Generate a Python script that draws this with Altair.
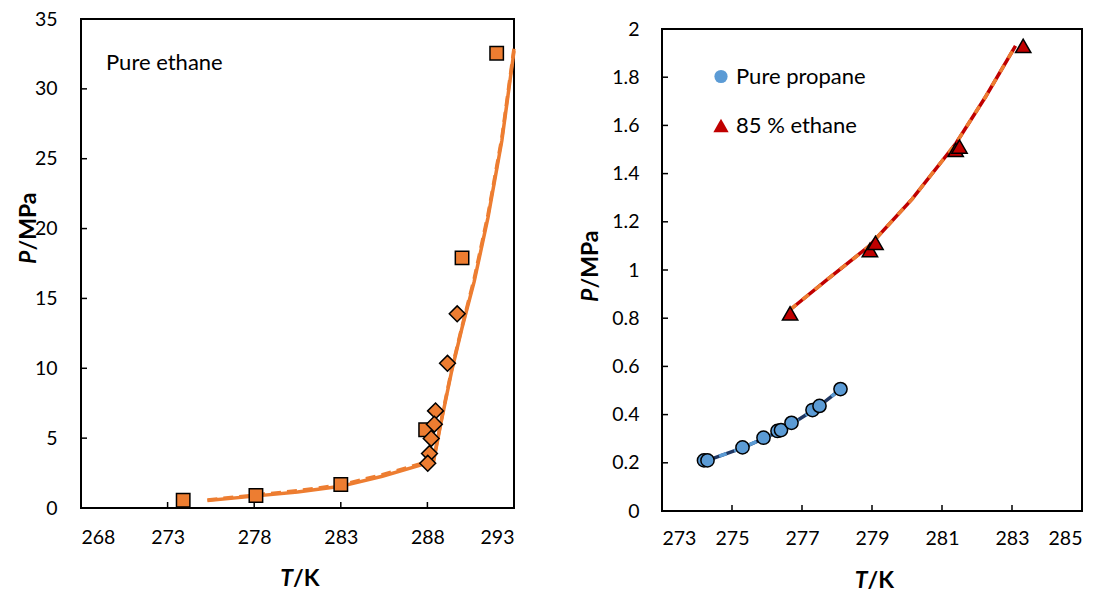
import altair as alt
import pandas as pd

# ---------------- data ----------------
# Left panel: pure ethane
sq_T = [273.9, 278.1, 283.0, 287.9, 290.0, 292.0]
sq_P = [0.55, 0.89, 1.68, 5.6, 17.9, 32.55]
dm_T = [289.72, 289.16, 288.47, 288.40, 288.22, 288.12, 288.02]
dm_P = [13.9, 10.36, 6.95, 6.0, 4.98, 3.9, 3.2]
lineA_T = [275.3, 278.0, 280.5, 283.0, 285.4, 287.7, 288.35, 288.8, 289.4, 290.0, 290.7, 291.5, 292.3, 293.0]
lineA_P = [0.53, 0.85, 1.15, 1.55, 2.27, 3.1, 3.3, 6.2, 9.8, 12.9, 16.2, 20.8, 26.3, 32.7]
lineB_T = [275.3, 278.0, 280.5, 283.0, 285.4, 287.7, 288.35, 288.8, 289.4, 290.0, 290.7, 291.5, 292.3, 293.0]
lineB_P = [0.58, 0.92, 1.24, 1.65, 2.38, 3.2, 3.4, 6.3, 9.9, 13.0, 16.4, 21.0, 26.5, 32.9]

# Right panel: pure propane and 85 % ethane
prop_T = [274.2, 274.3, 275.3, 275.9, 276.3, 276.4, 276.7, 277.3, 277.5, 278.1]
prop_P = [0.21, 0.21, 0.264, 0.304, 0.332, 0.336, 0.366, 0.419, 0.436, 0.506]
eth_T = [276.66, 278.94, 279.1, 281.39, 281.5, 283.32]
eth_P = [0.82, 1.083, 1.113, 1.498, 1.512, 1.93]
propL_T = [274.2, 275.3, 276.4, 277.4, 278.1]
propL_P = [0.205, 0.262, 0.333, 0.425, 0.505]
ethL_T = [276.66, 277.7, 278.9, 280.15, 281.4, 282.25, 283.1]
ethL_P = [0.835, 0.958, 1.097, 1.295, 1.526, 1.72, 1.93]

series_names = ["Pure propane", "85 % ethane"]

LX_TICKS = [268, 273, 278, 283, 288, 293]
LY_TICKS = [0, 5, 10, 15, 20, 25, 30, 35]
RX_TICKS = [273, 275, 277, 279, 281, 283, 285]
RY_TICKS = [0, 0.2, 0.4, 0.6, 0.8, 1.0, 1.2, 1.4, 1.6, 1.8, 2.0]

# ---------------- style ----------------
FONT = "Lato"
ORANGE = "#ED7D31"
BLUE = "#5B9BD5"
NAVY = "#203864"
RED = "#C00000"
W1, H1 = 433, 489
W2, H2 = 420, 482
TS = 6  # inward tick length
TICKFS = 19.5
TEXTFS = 22
TITLEFS = 23


def df(T, P):
    return pd.DataFrame({"T": T, "P": P})


one = pd.DataFrame({"a": [0]})

# ---------------- left panel ----------------
lx = alt.X("T:Q", scale=alt.Scale(domain=[268, 293], nice=False, zero=False),
           axis=alt.Axis(values=LX_TICKS, title=None, labelPadding=20))
ly = alt.Y("P:Q", scale=alt.Scale(domain=[0, 35], nice=False, zero=False),
           axis=alt.Axis(values=LY_TICKS, title=None, labelPadding=24))

l_lineA = alt.Chart(df(lineA_T, lineA_P)).mark_line(color=ORANGE, strokeWidth=3.5).encode(x=lx, y=ly)
l_lineB = alt.Chart(df(lineB_T, lineB_P)).mark_line(color=ORANGE, strokeWidth=3.5, strokeDash=[10, 6]).encode(x=lx, y=ly)
l_sq = alt.Chart(df(sq_T, sq_P)).mark_point(shape="square", size=180, filled=True, fill=ORANGE,
                                             stroke="black", strokeWidth=1.5, opacity=1).encode(x=lx, y=ly)
l_dm = alt.Chart(df(dm_T, dm_P)).mark_point(shape="diamond", size=250, filled=True, fill=ORANGE,
                                             stroke="black", strokeWidth=1.5, opacity=1).encode(x=lx, y=ly)
l_xt = alt.Chart(pd.DataFrame({"T": LX_TICKS})).mark_rule(color="black", strokeWidth=1.5).encode(
    x=lx, y=alt.value(H1), y2=alt.value(H1 - TS))
l_yt = alt.Chart(pd.DataFrame({"P": LY_TICKS})).mark_rule(color="black", strokeWidth=1.5).encode(
    y=ly, x=alt.value(0), x2=alt.value(TS))
l_lab = alt.Chart(one).mark_text(font=FONT, fontSize=TEXTFS, align="left", baseline="middle", color="black").encode(
    x=alt.value(25), y=alt.value(43.5), text=alt.value("Pure ethane"))


def xtitle(w, ypos):
    a = alt.Chart(one).mark_text(font=FONT, fontSize=TITLEFS, fontWeight="bold", fontStyle="italic",
                                 align="right", baseline="middle", color="black").encode(
        x=alt.value(w / 2 - 4.5), y=alt.value(ypos), text=alt.value("T"))
    b = alt.Chart(one).mark_text(font=FONT, fontSize=TITLEFS, fontWeight="bold",
                                 align="left", baseline="middle", color="black").encode(
        x=alt.value(w / 2 - 4.5), y=alt.value(ypos), text=alt.value("/K"))
    return a + b


def ytitle(xpos, ycenter):
    a = alt.Chart(one).mark_text(font=FONT, fontSize=TITLEFS, fontWeight="bold", fontStyle="italic", angle=270,
                                 align="right", baseline="middle", color="black").encode(
        x=alt.value(xpos), y=alt.value(ycenter + 19.5), text=alt.value("P"))
    b = alt.Chart(one).mark_text(font=FONT, fontSize=TITLEFS, fontWeight="bold", angle=270,
                                 align="left", baseline="middle", color="black").encode(
        x=alt.value(xpos), y=alt.value(ycenter + 19.5), text=alt.value("/MPa"))
    return a + b


left = alt.layer(l_xt, l_yt, l_lineA, l_lineB, l_sq, l_dm, l_lab,
                 xtitle(W1, 560), ytitle(-52.5, 212)).properties(width=W1, height=H1)

# ---------------- right panel ----------------
rx = alt.X("T:Q", scale=alt.Scale(domain=[273, 285], nice=False, zero=False),
           axis=alt.Axis(values=RX_TICKS, title=None, labelPadding=18))
ry = alt.Y("P:Q", scale=alt.Scale(domain=[0, 2], nice=False, zero=False),
           axis=alt.Axis(values=RY_TICKS, title=None, labelPadding=23,
                         labelExpr="format(datum.value, '.1~f')"))

pts = pd.concat([
    pd.DataFrame({"T": prop_T, "P": prop_P, "s": series_names[0]}),
    pd.DataFrame({"T": eth_T, "P": eth_P, "s": series_names[1]}),
])
# legend is positioned relative to the first panel's plot origin
leg = alt.Legend(title=None, orient="none", legendX=629, legendY=46.5, labelFont=FONT, labelFontSize=TEXTFS,
                 labelColor="black", rowPadding=27, labelOffset=4, padding=0,
                 symbolStrokeColor="black", symbolStrokeWidth=1.5, symbolOpacity=1)

r_propA = alt.Chart(df(propL_T, propL_P)).mark_line(color=NAVY, strokeWidth=3.5).encode(x=rx, y=ry)
r_propB = alt.Chart(df(propL_T, propL_P)).mark_line(color=BLUE, strokeWidth=3.5, strokeDash=[8, 8]).encode(x=rx, y=ry)
r_ethA = alt.Chart(df(ethL_T, ethL_P)).mark_line(color=RED, strokeWidth=3.5).encode(x=rx, y=ry)
r_ethB = alt.Chart(df(ethL_T, ethL_P)).mark_line(color=ORANGE, strokeWidth=3.5, strokeDash=[8, 8]).encode(x=rx, y=ry)
r_pts = alt.Chart(pts).mark_point(filled=True, stroke="black", strokeWidth=1.5, opacity=1).encode(
    x=rx, y=ry,
    color=alt.Color("s:N", scale=alt.Scale(domain=series_names, range=[BLUE, RED]), legend=leg),
    shape=alt.Shape("s:N", scale=alt.Scale(domain=series_names, range=["circle", "triangle-up"]), legend=leg),
    size=alt.Size("s:N", scale=alt.Scale(domain=series_names, range=[175, 235]), legend=leg),
)
r_xt = alt.Chart(pd.DataFrame({"T": RX_TICKS})).mark_rule(color="black", strokeWidth=1.5).encode(
    x=rx, y=alt.value(H2), y2=alt.value(H2 - TS))
r_yt = alt.Chart(pd.DataFrame({"P": RY_TICKS})).mark_rule(color="black", strokeWidth=1.5).encode(
    y=ry, x=alt.value(0), x2=alt.value(TS))

right = alt.layer(r_xt, r_yt, r_propA, r_propB, r_ethA, r_ethB, r_pts,
                  xtitle(W2, 552), ytitle(-71, 240)).properties(width=W2, height=H2)

spacer = alt.Chart(one).mark_point(opacity=0).encode(x=alt.value(0), y=alt.value(0)).properties(
    width=W2, height=10, view=alt.ViewBackground(strokeOpacity=0))

right_col = alt.vconcat(spacer, right, spacing=0, bounds="flush")

chart = alt.hconcat(left, right_col, spacing=148, bounds="flush").properties(
    padding={"left": 8, "top": 0, "right": 5, "bottom": 0},
    background="white",
).configure_view(stroke="black", strokeWidth=2).configure_axis(
    grid=False, domain=False, ticks=False, tickSize=0, labelFont=FONT, labelFontSize=TICKFS,
    labelColor="black"
)

chart.save("out.html", embed_options={"renderer": "svg", "actions": False})
